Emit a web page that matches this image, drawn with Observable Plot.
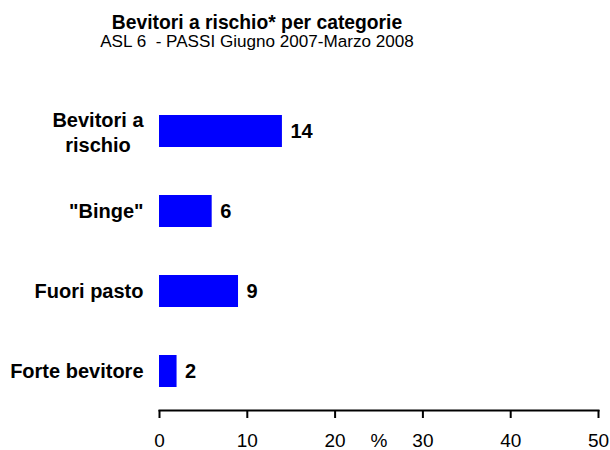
<!DOCTYPE html>
<html>
<head>
<meta charset="utf-8">
<script src="https://cdn.jsdelivr.net/npm/d3@7"></script>
<script src="https://cdn.jsdelivr.net/npm/@observablehq/plot@0.6"></script>
<style>
  html, body { margin: 0; padding: 0; background: #fff; }
  #wrap { width: 610px; height: 450px; position: relative; overflow: hidden; font-family: "Liberation Sans", Arial, sans-serif; color: #000; }
  #head { height: 55px; width: 514px; text-align: center; white-space: pre; }
  #title { font-weight: bold; font-size: 19.3px; line-height: 22px; padding-top: 12px; }
  #subtitle { font-size: 17.1px; line-height: 18px; margin-top: -1px; }
  svg { display: block; }
</style>
</head>
<body>
<div id="wrap">
  <div id="head"><div id="title"></div><div id="subtitle"></div></div>
  <div id="chart"></div>
</div>
<script>
const titleText = "Bevitori a rischio* per categorie";
const subtitleText = "ASL 6  - PASSI Giugno 2007-Marzo 2008";
const categories = ["Bevitori a rischio", "\"Binge\"", "Fuori pasto", "Forte bevitore"];
const categoryLabels = ["Bevitori a\nrischio", "\"Binge\"", "Fuori pasto", "Forte bevitore"];
const values = [14, 6, 9, 2];
const xTicks = [0, 10, 20, 30, 40, 50];
const xUnit = "%";

document.getElementById("title").textContent = titleText;
document.getElementById("subtitle").textContent = subtitleText;

const data = categories.map((c, i) => ({cat: c, value: values[i], label: categoryLabels[i]}));
const single = data.filter(d => !d.label.includes("\n"));
const multi = data.filter(d => d.label.includes("\n"));
const xMid = (xTicks[0] + xTicks[xTicks.length - 1]) / 2;

const chart = Plot.plot({
  width: 610,
  height: 395,
  marginLeft: 159,
  marginRight: 12,
  marginTop: 10,
  marginBottom: 40,
  style: {fontFamily: "'Liberation Sans', Arial, sans-serif", fontSize: "19px", color: "#000", background: "#fff", overflow: "visible"},
  x: {domain: [xTicks[0], xTicks[xTicks.length - 1]], label: null},
  y: {domain: categories, range: [12, 380], padding: 0.6, axis: null, label: null},
  marks: [
    Plot.barX(data, {y: "cat", x: "value", fill: "#0000ff"}),
    Plot.text(data, {y: "cat", x: "value", text: d => String(d.value), textAnchor: "start", dx: 8, fontWeight: "bold", fontSize: 20}),
    Plot.text(single, {y: "cat", x: 0, text: "label", textAnchor: "end", dx: -16, fontWeight: "bold", fontSize: 20}),
    Plot.text(multi, {y: "cat", x: 0, text: "label", textAnchor: "middle", dx: -61.5, lineHeight: 1.25, fontWeight: "bold", fontSize: 20}),
    Plot.frame({anchor: "bottom", strokeWidth: 2}),
    Plot.axisX({ticks: xTicks, tickFormat: d => String(d), tickSize: 8, tickPadding: 14.5, strokeWidth: 2, fontSize: 19, label: null}),
    Plot.text([xUnit], {x: () => xMid, text: d => d, frameAnchor: "bottom", dy: 22.5, lineAnchor: "top", fontSize: 19})
  ]
});
document.getElementById("chart").appendChild(chart);
</script>
</body>
</html>
